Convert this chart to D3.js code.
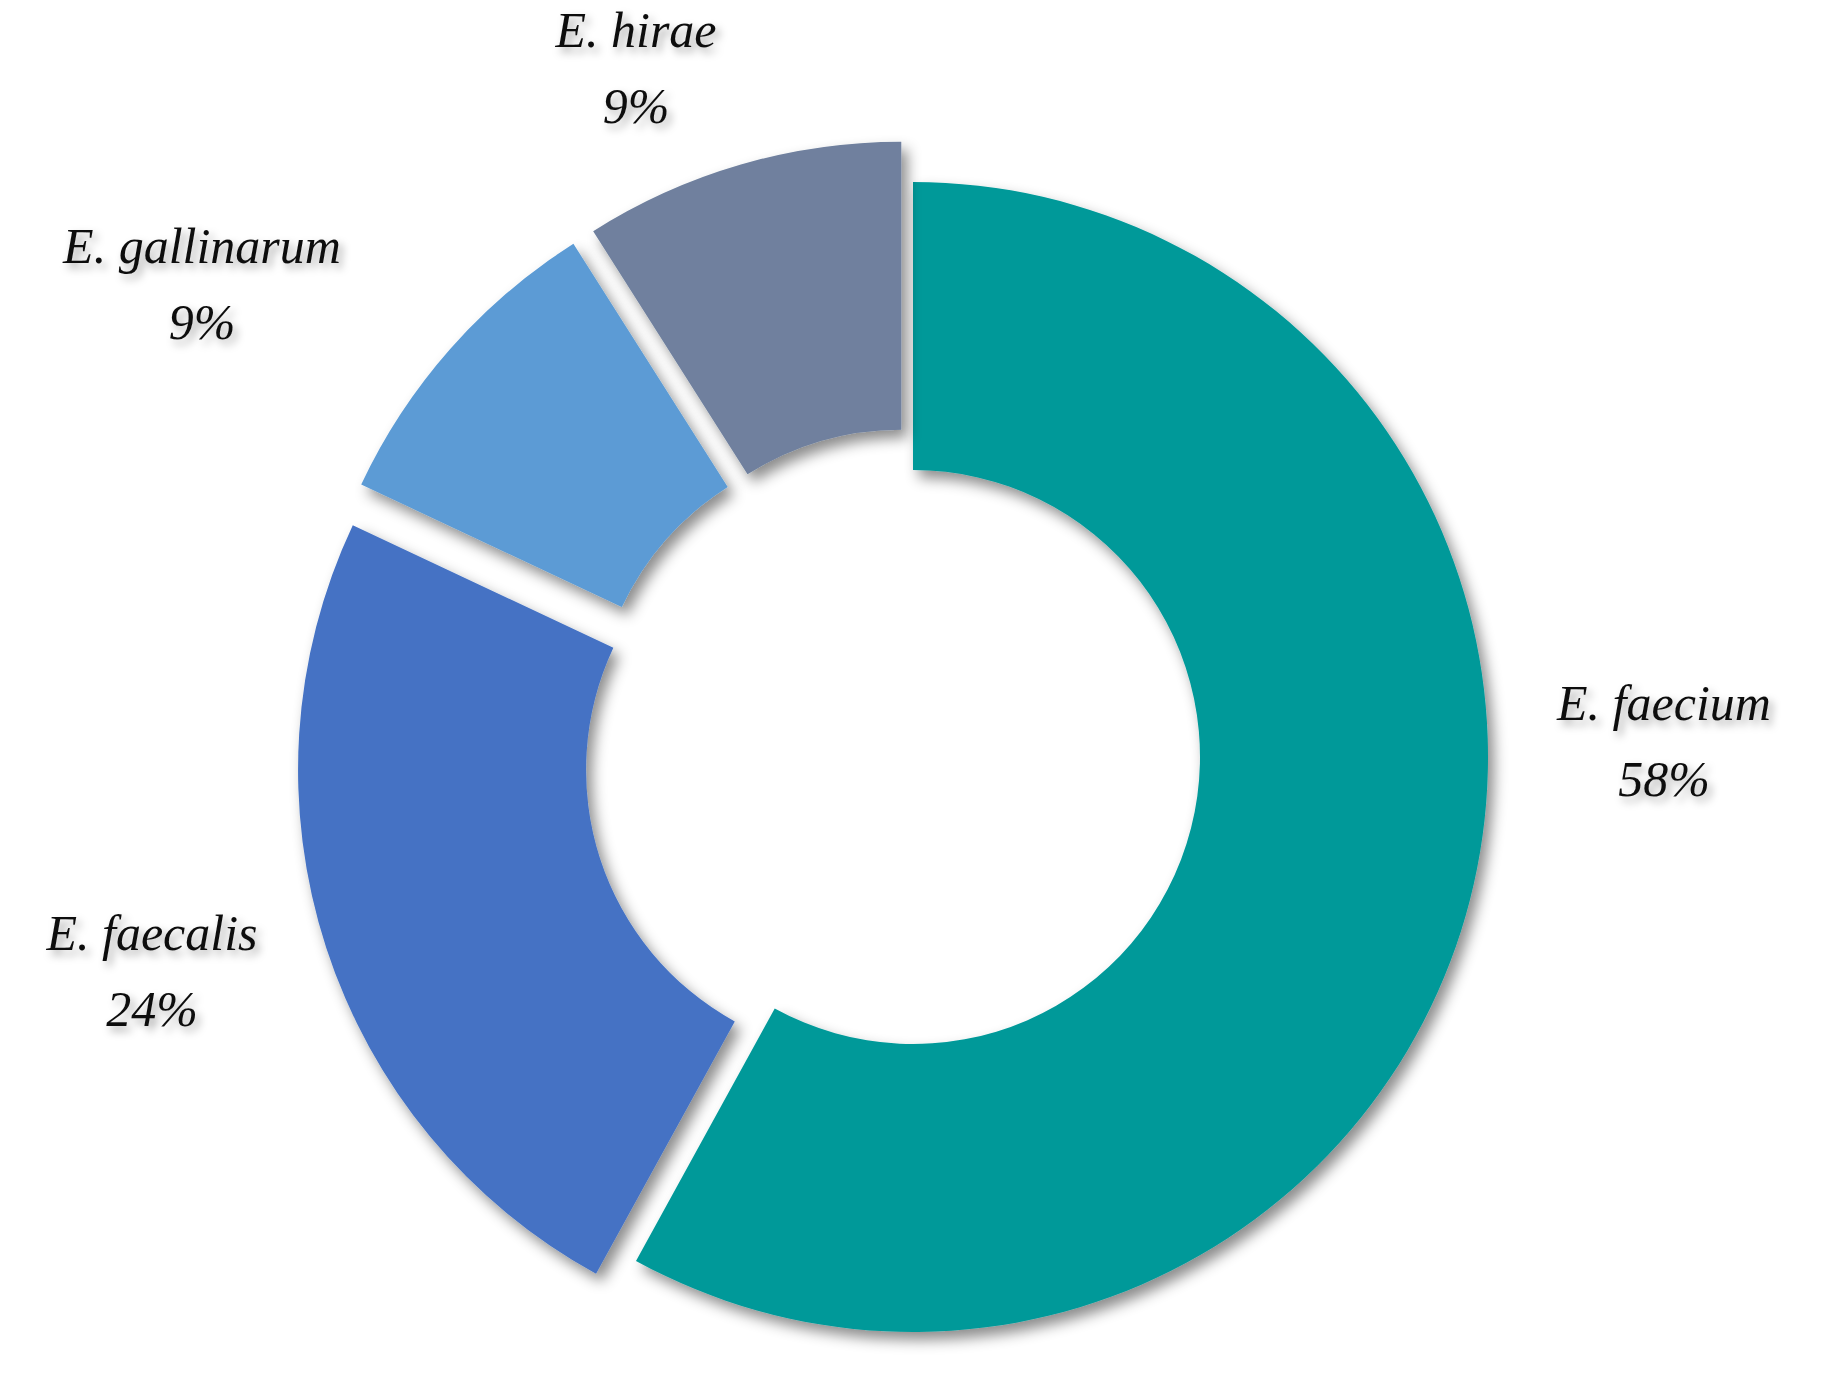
<!DOCTYPE html>
<html><head><meta charset="utf-8">
<script src="https://cdn.jsdelivr.net/npm/d3@7"></script>
<style>body{margin:0;background:#fff}</style></head>
<body><svg id="c" width="1837" height="1393"></svg>
<script>
const categories = ["E. faecium","E. faecalis","E. gallinarum","E. hirae"];
const values = [58,24,9,9];
const colors = ["#009999","#4472C4","#5B9BD5","#6F809E"];
const labelText = ["58%","24%","9%","9%"];

const svg = d3.select("#c");
const defs = svg.append("defs");
const f = defs.append("filter").attr("id","sh").attr("x","-20%").attr("y","-20%").attr("width","140%").attr("height","140%");
f.append("feDropShadow").attr("dx",6).attr("dy",8).attr("stdDeviation",7).attr("flood-color","#000").attr("flood-opacity",0.45);
const ft = defs.append("filter").attr("id","tsh").attr("x","-20%").attr("y","-40%").attr("width","140%").attr("height","180%");
ft.append("feDropShadow").attr("dx",4).attr("dy",5).attr("stdDeviation",4).attr("flood-color","#000").attr("flood-opacity",0.35);

const cx = 913, cy = 757, R = 575, r = 287;
const offsets = [0, 42, 42, 42];
const pie = d3.pie().sort(null).value(d=>d)(values);
const arc = d3.arc().innerRadius(r).outerRadius(R);
const g = svg.append("g").attr("transform",`translate(${cx},${cy})`);
g.selectAll("path").data(pie).join("path")
  .attr("d",arc).attr("fill",(d,i)=>colors[i]).attr("filter","url(#sh)")
  .attr("transform",(d,i)=>{const a=(d.startAngle+d.endAngle)/2;return `translate(${Math.sin(a)*offsets[i]},${-Math.cos(a)*offsets[i]})`;});

const labelPos = [[1664,720],[152,950],[202,263],[636,47]];
const lab = svg.append("g").attr("font-family","Liberation Serif, serif").attr("font-style","italic")
  .attr("font-size",50).attr("text-anchor","middle").attr("fill","#111").attr("filter","url(#tsh)");
categories.forEach((c,i)=>{
  const t = lab.append("text").attr("x",labelPos[i][0]).attr("y",labelPos[i][1]);
  t.append("tspan").attr("x",labelPos[i][0]).text(c);
  t.append("tspan").attr("x",labelPos[i][0]).attr("dy",76).text(labelText[i]);
});
</script></body></html>
